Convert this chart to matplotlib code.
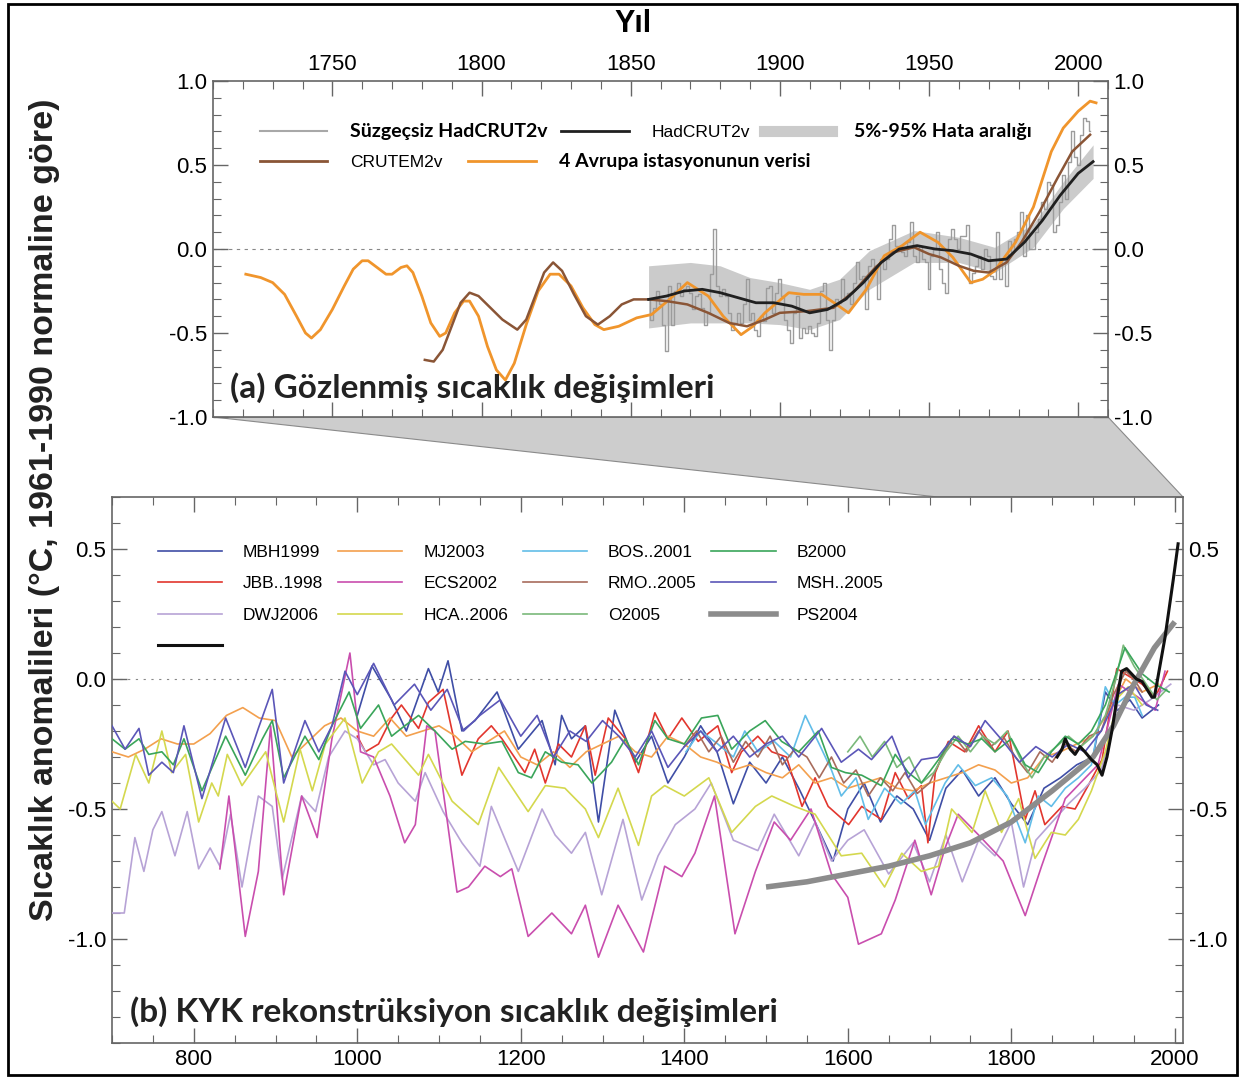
import matplotlib
matplotlib.use("Agg")
import matplotlib.pyplot as plt
from matplotlib.lines import Line2D
from matplotlib.patches import Polygon, Rectangle
from matplotlib.ticker import MultipleLocator, FormatStrFormatter

plt.rcParams["font.family"] = ["Liberation Sans", "DejaVu Sans"]
plt.rcParams["axes.unicode_minus"] = False

# ---------------- (a) gözlenmiş sıcaklık ----------------
raw_years = list(range(1856, 2005))
raw_vals = [-0.30, -0.42, -0.35, -0.25, -0.33, -0.45, -0.61, -0.22, -0.45, -0.25,
            -0.20, -0.28, -0.24, -0.22, -0.26, -0.36, -0.28, -0.27, -0.35, -0.45,
            -0.38, -0.15, 0.12, -0.22, -0.28, -0.24, -0.28, -0.38, -0.48, -0.44,
            -0.38, -0.44, -0.33, -0.18, -0.42, -0.38, -0.48, -0.52, -0.40, -0.43,
            -0.23, -0.22, -0.38, -0.26, -0.18, -0.28, -0.42, -0.48, -0.56, -0.38,
            -0.28, -0.53, -0.47, -0.50, -0.46, -0.50, -0.52, -0.44, -0.25, -0.20,
            -0.42, -0.60, -0.42, -0.30, -0.32, -0.18, -0.30, -0.26, -0.33, -0.20,
            -0.08, -0.18, -0.16, -0.36, -0.10, -0.06, -0.10, -0.30, -0.06, -0.12,
            -0.06, 0.06, 0.14, 0.02, 0.00, -0.02, -0.04, 0.04, 0.16, -0.04,
            -0.08, 0.02, -0.06, -0.08, -0.24, -0.04, 0.00, 0.10, -0.12, -0.20,
            -0.26, 0.06, 0.12, 0.06, 0.00, 0.08, 0.08, 0.14, -0.20, -0.14,
            -0.10, -0.04, -0.12, 0.00, -0.04, -0.16, -0.18, 0.10, -0.18, -0.06,
            -0.22, 0.05, -0.02, 0.06, 0.10, 0.22, -0.04, 0.20, 0.00, 0.00,
            0.10, 0.18, 0.28, 0.24, 0.40, 0.38, 0.10, 0.14, 0.28, 0.44,
            0.30, 0.52, 0.70, 0.55, 0.50, 0.68, 0.78, 0.76, 0.70]

had_years = [1856, 1862, 1868, 1874, 1880, 1886, 1892, 1898, 1904, 1910, 1916, 1922, 1928,
             1934, 1940, 1946, 1952, 1958, 1964, 1970, 1976, 1982, 1988, 1994, 2000, 2005]
had_vals = [-0.30, -0.28, -0.25, -0.24, -0.26, -0.29, -0.32, -0.32, -0.34, -0.38, -0.36, -0.30,
            -0.20, -0.08, 0.00, 0.02, 0.00, -0.01, -0.03, -0.07, -0.06, 0.04, 0.17, 0.32, 0.45, 0.52]

band_years = [1856, 1870, 1880, 1890, 1900, 1910, 1920, 1930, 1945, 1960, 1972, 1985, 1995, 2005]
band_hi = [-0.10, -0.08, -0.10, -0.17, -0.20, -0.24, -0.18, -0.01, 0.11, 0.07, 0.01, 0.15, 0.40, 0.62]
band_lo = [-0.47, -0.44, -0.44, -0.44, -0.45, -0.48, -0.42, -0.24, -0.08, -0.08, -0.14, 0.01, 0.24, 0.42]

crutem_years = [1781, 1784, 1787, 1790, 1793, 1796, 1799, 1803, 1807, 1812, 1815, 1818, 1821,
                1824, 1827, 1831, 1835, 1839, 1843, 1847, 1851, 1856, 1862, 1869, 1876, 1883,
                1889, 1895, 1900, 1909, 1918, 1925, 1932, 1938, 1945, 1950, 1954, 1960, 1965,
                1970, 1976, 1981, 1987, 1993, 1998, 2004]
crutem_vals = [-0.66, -0.67, -0.60, -0.46, -0.32, -0.26, -0.28, -0.35, -0.42, -0.48, -0.42, -0.28,
               -0.14, -0.08, -0.13, -0.27, -0.40, -0.45, -0.40, -0.33, -0.30, -0.30, -0.31, -0.33,
               -0.38, -0.44, -0.46, -0.42, -0.38, -0.37, -0.35, -0.25, -0.11, -0.02, 0.01, -0.03,
               -0.05, -0.10, -0.13, -0.14, -0.08, 0.04, 0.22, 0.42, 0.58, 0.68]

euro_years = [1721, 1726, 1730, 1734, 1738, 1741, 1743, 1746, 1750, 1754, 1757, 1760, 1762, 1765,
              1768, 1770, 1773, 1775, 1777, 1780, 1783, 1786, 1788, 1791, 1794, 1796, 1799, 1802,
              1805, 1808, 1811, 1815, 1819, 1823, 1826, 1830, 1834, 1838, 1841, 1846, 1852, 1857,
              1863, 1869, 1876, 1881, 1887, 1891, 1895, 1903, 1908, 1914, 1919, 1923, 1929, 1935,
              1941, 1947, 1953, 1958, 1964, 1968, 1972, 1979, 1985, 1991, 1995, 2000, 2004, 2006]
euro_vals = [-0.15, -0.17, -0.20, -0.27, -0.40, -0.50, -0.53, -0.48, -0.36, -0.22, -0.12, -0.07,
             -0.07, -0.11, -0.15, -0.15, -0.11, -0.10, -0.14, -0.28, -0.44, -0.52, -0.50, -0.38,
             -0.31, -0.31, -0.40, -0.58, -0.72, -0.78, -0.68, -0.45, -0.25, -0.15, -0.15, -0.22,
             -0.35, -0.45, -0.48, -0.46, -0.41, -0.39, -0.30, -0.20, -0.28, -0.40, -0.51, -0.46,
             -0.38, -0.26, -0.27, -0.27, -0.33, -0.38, -0.24, -0.04, 0.02, 0.10, 0.04, -0.05,
             -0.20, -0.18, -0.13, 0.04, 0.25, 0.58, 0.72, 0.82, 0.88, 0.87]

# ---------------- (b) rekonstrüksiyonlar ----------------
mbh_years = [1000, 1018, 1042, 1060, 1087, 1099, 1111, 1128, 1144, 1171, 1197, 1226, 1242, 1250,
             1262, 1279, 1295, 1315, 1340, 1360, 1380, 1400, 1420, 1440, 1460, 1480, 1500, 1520,
             1540, 1560, 1582, 1600, 1620, 1640, 1660, 1680, 1700, 1720, 1740, 1760, 1780, 1800,
             1820, 1840, 1860, 1880, 1900, 1915, 1930, 1945, 1960, 1980]
mbh_vals = [-0.14, 0.05, -0.08, -0.20, 0.04, -0.05, 0.07, -0.20, -0.16, -0.05, -0.27, -0.16, -0.33,
            -0.14, -0.23, -0.18, -0.55, -0.12, -0.32, -0.22, -0.40, -0.30, -0.18, -0.28, -0.48,
            -0.32, -0.40, -0.30, -0.42, -0.55, -0.70, -0.50, -0.40, -0.55, -0.45, -0.50, -0.62,
            -0.42, -0.35, -0.45, -0.38, -0.48, -0.56, -0.42, -0.38, -0.33, -0.30, -0.05, -0.12,
            -0.08, -0.15, -0.10]

jbb_years = [1000, 1010, 1026, 1042, 1054, 1075, 1087, 1105, 1116, 1128, 1148, 1164, 1177, 1205,
             1217, 1230, 1246, 1262, 1279, 1291, 1307, 1328, 1344, 1364, 1380, 1397, 1417, 1441,
             1458, 1470, 1490, 1507, 1525, 1544, 1560, 1576, 1601, 1617, 1641, 1658, 1674, 1690,
             1698, 1707, 1723, 1743, 1760, 1780, 1796, 1817, 1829, 1841, 1862, 1878, 1894, 1911,
             1929, 1939, 1960, 1976, 1991]
jbb_vals = [-0.22, -0.28, -0.25, -0.15, -0.10, -0.19, -0.09, -0.04, -0.20, -0.37, -0.23, -0.18,
            -0.23, -0.36, -0.27, -0.40, -0.25, -0.30, -0.18, -0.37, -0.15, -0.23, -0.36, -0.13,
            -0.23, -0.15, -0.24, -0.18, -0.36, -0.28, -0.22, -0.28, -0.30, -0.49, -0.38, -0.49,
            -0.56, -0.49, -0.54, -0.36, -0.46, -0.41, -0.63, -0.36, -0.24, -0.28, -0.18, -0.28,
            -0.20, -0.54, -0.43, -0.56, -0.49, -0.50, -0.41, -0.31, 0.04, 0.02, -0.02, -0.07, 0.03]

mj_years = [700, 720, 740, 760, 780, 800, 820, 840, 860, 880, 900, 920, 940, 960, 980, 1000, 1020,
            1040, 1060, 1080, 1100, 1120, 1140, 1160, 1180, 1200, 1220, 1240, 1260, 1280, 1300,
            1320, 1340, 1360, 1380, 1400, 1420, 1440, 1460, 1480, 1500, 1520, 1540, 1560, 1580,
            1600, 1620, 1640, 1660, 1680, 1700, 1720, 1740, 1760, 1780, 1800, 1820, 1840, 1860,
            1880, 1900, 1920, 1940, 1960, 1980]
mj_vals = [-0.28, -0.30, -0.27, -0.23, -0.25, -0.25, -0.21, -0.14, -0.11, -0.15, -0.16, -0.30,
           -0.24, -0.18, -0.15, -0.20, -0.22, -0.15, -0.22, -0.20, -0.18, -0.22, -0.28, -0.24,
           -0.20, -0.30, -0.33, -0.28, -0.34, -0.28, -0.25, -0.22, -0.28, -0.30, -0.22, -0.25,
           -0.30, -0.32, -0.35, -0.33, -0.36, -0.38, -0.33, -0.40, -0.38, -0.42, -0.40, -0.38,
           -0.42, -0.43, -0.40, -0.38, -0.36, -0.33, -0.35, -0.40, -0.38, -0.30, -0.28, -0.25,
           -0.22, -0.12, 0.00, -0.05, -0.02]

ecs_years = [832, 843, 863, 879, 894, 910, 932, 951, 969, 991, 1004, 1020, 1040, 1058, 1071, 1085,
             1095, 1122, 1136, 1156, 1175, 1189, 1209, 1238, 1262, 1279, 1295, 1319, 1350, 1376,
             1397, 1413, 1437, 1462, 1487, 1510, 1530, 1555, 1580, 1600, 1613, 1641, 1658, 1682,
             1702, 1719, 1735, 1760, 1790, 1817, 1837, 1866, 1906, 1931, 1955, 1976, 1988]
ecs_vals = [-0.73, -0.45, -0.99, -0.74, -0.18, -0.83, -0.45, -0.61, -0.23, 0.10, -0.28, -0.30,
            -0.45, -0.63, -0.56, -0.18, -0.20, -0.82, -0.80, -0.72, -0.76, -0.73, -0.99, -0.90,
            -0.98, -0.87, -1.07, -0.87, -1.05, -0.72, -0.76, -0.67, -0.45, -0.98, -0.74, -0.55,
            -0.62, -0.50, -0.75, -0.84, -1.02, -0.98, -0.85, -0.62, -0.83, -0.65, -0.52, -0.60,
            -0.70, -0.91, -0.72, -0.46, -0.33, -0.02, -0.07, -0.12, 0.03]

dwj_years = [700, 715, 728, 739, 750, 761, 777, 792, 806, 820, 832, 845, 859, 879, 896, 908, 932,
             949, 965, 985, 1000, 1020, 1034, 1050, 1071, 1083, 1105, 1128, 1150, 1164, 1197, 1226,
             1242, 1262, 1279, 1299, 1325, 1348, 1368, 1389, 1413, 1433, 1460, 1490, 1510, 1540,
             1560, 1580, 1600, 1620, 1650, 1680, 1700, 1720, 1740, 1760, 1780, 1800, 1815, 1830,
             1850, 1870, 1890, 1910, 1930, 1950, 1970, 1995]
dwj_vals = [-0.90, -0.90, -0.61, -0.74, -0.58, -0.51, -0.68, -0.51, -0.73, -0.65, -0.72, -0.52,
            -0.80, -0.45, -0.49, -0.77, -0.45, -0.51, -0.30, -0.20, -0.23, -0.33, -0.31, -0.40,
            -0.47, -0.36, -0.51, -0.63, -0.72, -0.49, -0.74, -0.50, -0.60, -0.67, -0.59, -0.83,
            -0.54, -0.85, -0.68, -0.56, -0.50, -0.40, -0.62, -0.66, -0.52, -0.68, -0.55, -0.70,
            -0.62, -0.58, -0.75, -0.63, -0.78, -0.60, -0.78, -0.62, -0.68, -0.55, -0.80, -0.62,
            -0.55, -0.48, -0.42, -0.35, -0.10, -0.12, -0.08, -0.02]

bos_years = [1402, 1420, 1441, 1460, 1474, 1490, 1510, 1530, 1548, 1565, 1580, 1592, 1610, 1625,
             1645, 1665, 1682, 1695, 1719, 1735, 1756, 1776, 1795, 1817, 1833, 1849, 1866, 1882,
             1898, 1915, 1927, 1939, 1951, 1960]
bos_vals = [-0.28, -0.20, -0.25, -0.30, -0.20, -0.28, -0.24, -0.30, -0.14, -0.25, -0.35, -0.45,
            -0.38, -0.54, -0.42, -0.48, -0.43, -0.56, -0.40, -0.33, -0.41, -0.38, -0.45, -0.63,
            -0.45, -0.49, -0.42, -0.38, -0.33, -0.03, -0.10, -0.07, -0.07, -0.14]

rmo_years = [1400, 1415, 1430, 1445, 1460, 1475, 1490, 1505, 1520, 1535, 1550, 1565, 1580, 1595,
             1610, 1625, 1640, 1655, 1670, 1685, 1700, 1715, 1730, 1745, 1760, 1775, 1790, 1805,
             1820, 1835, 1850, 1865, 1880, 1895, 1910, 1925, 1940, 1950, 1960]
rmo_vals = [-0.26, -0.20, -0.28, -0.22, -0.32, -0.24, -0.30, -0.22, -0.33, -0.27, -0.30, -0.38,
            -0.30, -0.40, -0.35, -0.45, -0.38, -0.43, -0.36, -0.44, -0.40, -0.30, -0.22, -0.28,
            -0.20, -0.26, -0.22, -0.30, -0.36, -0.28, -0.32, -0.25, -0.28, -0.22, -0.20, -0.06,
            0.03, 0.00, -0.05]

b2000_years = [700, 716, 733, 745, 761, 775, 788, 810, 839, 863, 884, 896, 910, 936, 953, 969, 990,
               1004, 1026, 1042, 1054, 1075, 1095, 1116, 1132, 1156, 1177, 1197, 1213, 1230, 1250,
               1270, 1287, 1311, 1328, 1344, 1364, 1380, 1400, 1421, 1441, 1458, 1480, 1499, 1519,
               1540, 1564, 1580, 1597, 1617, 1641, 1658, 1674, 1690, 1711, 1727, 1747, 1764, 1780,
               1800, 1817, 1833, 1849, 1866, 1882, 1898, 1915, 1939, 1960, 1976, 1993]
b2000_vals = [-0.23, -0.27, -0.23, -0.29, -0.28, -0.33, -0.23, -0.43, -0.22, -0.37, -0.23, -0.16,
              -0.38, -0.22, -0.31, -0.18, -0.05, -0.19, -0.10, -0.22, -0.19, -0.14, -0.20, -0.27,
              -0.24, -0.25, -0.24, -0.36, -0.38, -0.28, -0.32, -0.33, -0.40, -0.32, -0.23, -0.33,
              -0.16, -0.23, -0.25, -0.15, -0.14, -0.27, -0.20, -0.16, -0.24, -0.28, -0.20, -0.34,
              -0.36, -0.37, -0.41, -0.29, -0.36, -0.40, -0.31, -0.23, -0.25, -0.23, -0.28, -0.23,
              -0.33, -0.36, -0.28, -0.22, -0.25, -0.20, -0.10, 0.12, 0.02, -0.02, -0.05]

msh_years = [700, 716, 733, 745, 761, 775, 788, 810, 839, 863, 879, 896, 910, 936, 953, 969, 985,
             1000, 1020, 1045, 1070, 1090, 1110, 1130, 1150, 1175, 1200, 1220, 1240, 1260, 1280,
             1300, 1320, 1340, 1360, 1380, 1400, 1420, 1440, 1460, 1480, 1500, 1520, 1540, 1568,
             1592, 1613, 1629, 1654, 1674, 1690, 1710, 1730, 1750, 1768, 1790, 1810, 1830, 1850,
             1870, 1890, 1910, 1930, 1950, 1965, 1979]
msh_vals = [-0.18, -0.27, -0.19, -0.37, -0.32, -0.36, -0.18, -0.46, -0.15, -0.34, -0.19, -0.04,
            -0.40, -0.16, -0.28, -0.18, 0.03, -0.06, 0.06, -0.10, -0.02, -0.12, -0.04, -0.20,
            -0.14, -0.08, -0.22, -0.14, -0.30, -0.20, -0.24, -0.16, -0.22, -0.30, -0.20, -0.34,
            -0.26, -0.20, -0.28, -0.22, -0.30, -0.25, -0.22, -0.30, -0.19, -0.32, -0.27, -0.31,
            -0.22, -0.38, -0.31, -0.30, -0.22, -0.26, -0.16, -0.24, -0.32, -0.26, -0.30, -0.25,
            -0.28, -0.20, -0.06, -0.02, -0.10, -0.12]

hca_years = [700, 710, 729, 745, 761, 773, 790, 806, 822, 830, 841, 859, 888, 910, 930, 945, 961,
             985, 1006, 1026, 1042, 1075, 1087, 1116, 1148, 1173, 1209, 1230, 1254, 1279, 1295,
             1319, 1344, 1360, 1376, 1400, 1430, 1458, 1487, 1507, 1535, 1560, 1592, 1617, 1645,
             1666, 1690, 1711, 1727, 1752, 1768, 1788, 1809, 1829, 1849, 1866, 1882, 1898, 1915,
             1931, 1943, 1960]
hca_vals = [-0.47, -0.50, -0.29, -0.40, -0.20, -0.36, -0.29, -0.55, -0.40, -0.45, -0.29, -0.41,
            -0.28, -0.55, -0.27, -0.43, -0.25, -0.15, -0.40, -0.28, -0.25, -0.37, -0.29, -0.47,
            -0.56, -0.34, -0.51, -0.41, -0.42, -0.50, -0.61, -0.42, -0.64, -0.45, -0.41, -0.45,
            -0.38, -0.59, -0.49, -0.45, -0.49, -0.52, -0.68, -0.67, -0.80, -0.67, -0.74, -0.72,
            -0.50, -0.59, -0.43, -0.59, -0.46, -0.69, -0.59, -0.60, -0.54, -0.43, -0.28, -0.07,
            -0.03, -0.10]

o2005_years = [1600, 1615, 1630, 1645, 1660, 1675, 1690, 1705, 1720, 1735, 1750, 1765, 1780, 1795,
               1810, 1825, 1840, 1855, 1870, 1885, 1900, 1915, 1928, 1937, 1950, 1965, 1978, 1990]
o2005_vals = [-0.28, -0.22, -0.30, -0.24, -0.34, -0.30, -0.40, -0.36, -0.28, -0.22, -0.28, -0.22,
              -0.25, -0.20, -0.30, -0.38, -0.30, -0.26, -0.22, -0.26, -0.22, -0.14, 0.00, 0.13,
              0.05, -0.02, -0.08, -0.04]

ps_years = [1500, 1550, 1600, 1650, 1700, 1750, 1800, 1850, 1900, 1925, 1950, 1975, 2000]
ps_vals = [-0.80, -0.78, -0.75, -0.72, -0.68, -0.63, -0.55, -0.43, -0.30, -0.18, -0.02, 0.12, 0.22]

inst_years = [1856, 1862, 1866, 1872, 1878, 1884, 1890, 1898, 1905, 1911, 1917, 1923, 1929, 1935,
              1941, 1947, 1953, 1960, 1966, 1972, 1975, 1988, 1998, 2004]
inst_vals = [-0.30, -0.27, -0.23, -0.27, -0.29, -0.26, -0.28, -0.31, -0.33, -0.37, -0.30, -0.20,
             -0.08, 0.03, 0.04, 0.02, 0.00, -0.01, -0.04, -0.07, -0.07, 0.16, 0.38, 0.52]

recon = [
    ("MBH1999", mbh_years, mbh_vals, "#3f4ea6"),
    ("JBB..1998", jbb_years, jbb_vals, "#e2362e"),
    ("DWJ2006", dwj_years, dwj_vals, "#b7a3d6"),
    ("MJ2003", mj_years, mj_vals, "#f3a04e"),
    ("ECS2002", ecs_years, ecs_vals, "#c94eae"),
    ("HCA..2006", hca_years, hca_vals, "#d4d84e"),
    ("BOS..2001", bos_years, bos_vals, "#62bde8"),
    ("RMO..2005", rmo_years, rmo_vals, "#a86c5c"),
    ("O2005", o2005_years, o2005_vals, "#7ab97a"),
    ("B2000", b2000_years, b2000_vals, "#3aa55a"),
    ("MSH..2005", msh_years, msh_vals, "#5b56b8"),
]

W, H = 1244, 1079
fig = plt.figure(figsize=(W / 100, H / 100), dpi=100)
ax_a = fig.add_axes([213 / W, 1 - 417 / H, 895 / W, 336 / H])
ax_b = fig.add_axes([112 / W, 1 - 1043 / H, 1071 / W, 546 / H])

spine_col = "#666666"

# ---- panel a ----
ax_a.fill_between(band_years, band_lo, band_hi, color="#cbcbcb", lw=0, zorder=1)
ax_a.plot(raw_years, raw_vals, drawstyle="steps-mid", color="#9c9c9c", lw=1.0, zorder=2)
ax_a.plot(euro_years, euro_vals, color="#f0952c", lw=2.0, zorder=3, solid_joinstyle="round")
ax_a.plot(crutem_years, crutem_vals, color="#8a5536", lw=1.8, zorder=4, solid_joinstyle="round")
ax_a.plot(had_years, had_vals, color="#202020", lw=2.0, zorder=5, solid_joinstyle="round")
ax_a.axhline(0, color="#888888", lw=0.8, ls=(0, (3, 4)), zorder=0)
ax_a.set_xlim(1710, 2010)
ax_a.set_ylim(-1.0, 1.0)
ax_a.xaxis.set_major_locator(MultipleLocator(50))
ax_a.xaxis.set_minor_locator(MultipleLocator(10))
ax_a.yaxis.set_major_locator(MultipleLocator(0.5))
ax_a.yaxis.set_minor_locator(MultipleLocator(0.1))
ax_a.yaxis.set_major_formatter(FormatStrFormatter("%.1f"))
ax_a.tick_params(which="both", direction="in", top=True, bottom=True, left=True, right=True,
                 labeltop=True, labelbottom=False, labelleft=True, labelright=True,
                 color=spine_col, pad=4, labelsize=16)
ax_a.tick_params(which="major", length=11, width=1)
ax_a.tick_params(which="minor", length=6, width=0.8)

h_raw = Line2D([], [], color="#a8a8a8", lw=1.5)
h_had = Line2D([], [], color="#202020", lw=2)
h_band = Line2D([], [], color="#cbcbcb", lw=8)
leg1 = ax_a.legend([h_raw, h_had, h_band],
                   ["Süzgeçsiz HadCRUT2v", "HadCRUT2v", "5%-95% Hata aralığı"],
                   ncol=3, loc="upper left", bbox_to_anchor=(0.052, 0.875), frameon=False,
                   fontsize=12.5, handlelength=3.9, handletextpad=1.3, columnspacing=0.8,
                   borderpad=0, borderaxespad=0)
t1 = leg1.get_texts()
t1[0].set_fontfamily("Lato")
t1[0].set_fontweight("bold")
t1[0].set_fontsize(14)
t1[2].set_fontfamily("Lato")
t1[2].set_fontweight("bold")
t1[2].set_fontsize(14)
ax_a.add_artist(leg1)
h_cru = Line2D([], [], color="#8a5536", lw=2)
h_eur = Line2D([], [], color="#f0952c", lw=2)
leg2 = ax_a.legend([h_cru, h_eur], ["CRUTEM2v", "4 Avrupa istasyonunun verisi"],
                   ncol=2, loc="upper left", bbox_to_anchor=(0.052, 0.785), frameon=False,
                   fontsize=12.5, handlelength=3.9, handletextpad=1.3, columnspacing=1.5,
                   borderpad=0, borderaxespad=0)
t2 = leg2.get_texts()
t2[1].set_fontfamily("Lato")
t2[1].set_fontweight("bold")
t2[1].set_fontsize(14)

ax_a.text(0.019, 0.086, "(a) Gözlenmiş sıcaklık değişimleri", transform=ax_a.transAxes,
          family="Lato", fontweight="bold", fontsize=24, color="#222222", va="center", ha="left")

# ---- panel b ----
for name, yrs, vals, col in recon:
    ax_b.plot(yrs, vals, color=col, lw=1.2, zorder=3, solid_joinstyle="round")
ax_b.plot(ps_years, ps_vals, color="#8c8c8c", lw=4, zorder=4, solid_capstyle="butt")
ax_b.plot(inst_years, inst_vals, color="#111111", lw=2.2, zorder=5, solid_joinstyle="round")
ax_b.axhline(0, color="#888888", lw=0.8, ls=(0, (2, 5)), zorder=0)
ax_b.set_xlim(700, 2010)
ax_b.set_ylim(-1.4, 0.7)
ax_b.xaxis.set_major_locator(MultipleLocator(200))
ax_b.xaxis.set_minor_locator(MultipleLocator(50))
ax_b.yaxis.set_major_locator(MultipleLocator(0.5))
ax_b.yaxis.set_minor_locator(MultipleLocator(0.1))
ax_b.yaxis.set_major_formatter(FormatStrFormatter("%.1f"))
ax_b.tick_params(which="both", direction="in", top=True, bottom=True, left=True, right=True,
                 labeltop=False, labelbottom=True, labelleft=True, labelright=True,
                 color=spine_col, pad=4, labelsize=16)
ax_b.tick_params(which="major", length=11, width=1)
ax_b.tick_params(which="minor", length=6, width=0.8)

col_map = {name: col for name, _, _, col in recon}
leg_order = ["MBH1999", "JBB..1998", "DWJ2006", "", "MJ2003", "ECS2002", "HCA..2006",
             "BOS..2001", "RMO..2005", "O2005", "B2000", "MSH..2005", "PS2004"]
leg_handles = []
for name in leg_order:
    if name == "":
        leg_handles.append(Line2D([], [], color="#111111", lw=2.2))
    elif name == "PS2004":
        leg_handles.append(Line2D([], [], color="#8c8c8c", lw=4))
    else:
        leg_handles.append(Line2D([], [], color=col_map[name], lw=1.2))
ax_b.legend(leg_handles, leg_order, ncol=4, loc="upper left", bbox_to_anchor=(0.043, 0.912),
            frameon=False, fontsize=12.5, handlelength=3.7, handletextpad=1.2,
            columnspacing=0.85, labelspacing=0.93, borderpad=0, borderaxespad=0)

ax_b.text(0.017, 0.057, "(b) KYK rekonstrüksiyon sıcaklık değişimleri", transform=ax_b.transAxes,
          family="Lato", fontweight="bold", fontsize=24, color="#222222", va="center", ha="left")

for ax in (ax_a, ax_b):
    for sp in ax.spines.values():
        sp.set_color(spine_col)
        sp.set_linewidth(1.2)

# gri bağlantı alanı
fig.canvas.draw()
inv = fig.transFigure.inverted()
p1 = inv.transform(ax_a.transAxes.transform((0, 0)))
p2 = inv.transform(ax_a.transAxes.transform((1, 0)))
p3 = inv.transform(ax_b.get_xaxis_transform().transform((2010, 1)))
p4 = inv.transform(ax_b.get_xaxis_transform().transform((1710, 1)))
fig.add_artist(Polygon([p1, p2, p3, p4], closed=True, transform=fig.transFigure,
                       facecolor="#cdcdcd", edgecolor="#8a8a8a", lw=0.8, zorder=0))

fig.add_artist(Rectangle((8 / W, 4 / H), 1229 / W, 1071 / H, transform=fig.transFigure,
                         fill=False, edgecolor="black", lw=2))

fig.text(633 / W, 1 - 24 / H, "Yıl", ha="center", va="center", fontsize=22,
         fontweight="bold", family="Liberation Sans")
fig.text(45 / W, 1 - 510 / H, "Sıcaklık anomalileri (°C, 1961-1990 normaline göre)",
         rotation=90, ha="center", va="center", fontsize=24.5, fontweight="bold",
         family="Liberation Sans", color="#222222")

fig.savefig("out.png", dpi=100)
